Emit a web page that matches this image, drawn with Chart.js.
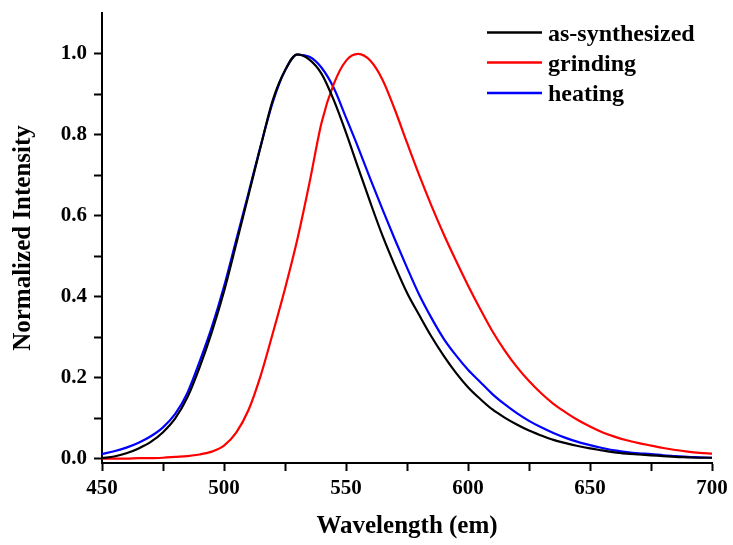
<!DOCTYPE html>
<html>
<head>
<meta charset="utf-8">
<script src="https://cdn.jsdelivr.net/npm/chart.js@4"></script>
<style>
  html, body { margin: 0; padding: 0; background: #fff; }
  #wrap { width: 733px; height: 545px; }
</style>
</head>
<body>
<div id="wrap"><canvas id="plChart" width="733" height="545"></canvas></div>
<script>
// Wavelength (nm), 5 nm steps
const wavelength = [450,455,460,465,470,475,480,485,490,495,500,505,510,515,520,525,530,535,540,545,550,555,560,565,570,575,580,585,590,595,600,605,610,615,620,625,630,635,640,645,650,655,660,665,670,675,680,685,690,695,700];

const asSynthesized = [0.002,0.006,0.014,0.026,0.042,0.066,0.100,0.152,0.226,0.313,0.413,0.530,0.650,0.770,0.885,0.958,0.998,0.985,0.950,0.885,0.805,0.718,0.632,0.550,0.477,0.410,0.355,0.302,0.255,0.213,0.177,0.148,0.122,0.102,0.085,0.070,0.058,0.047,0.039,0.032,0.026,0.021,0.016,0.013,0.011,0.009,0.007,0.005,0.004,0.003,0.003];

const grinding = [0.001,0.001,0.001,0.002,0.002,0.003,0.005,0.007,0.011,0.018,0.033,0.065,0.120,0.205,0.310,0.420,0.540,0.680,0.830,0.925,0.982,0.999,0.982,0.935,0.862,0.780,0.700,0.625,0.555,0.490,0.428,0.370,0.315,0.268,0.227,0.192,0.162,0.136,0.115,0.096,0.080,0.066,0.055,0.046,0.039,0.033,0.027,0.022,0.018,0.015,0.013];

const heating = [0.012,0.019,0.028,0.040,0.056,0.078,0.111,0.163,0.240,0.325,0.425,0.540,0.655,0.772,0.880,0.958,0.997,0.992,0.965,0.915,0.842,0.768,0.690,0.615,0.542,0.472,0.405,0.348,0.297,0.256,0.220,0.190,0.160,0.135,0.113,0.094,0.078,0.064,0.052,0.042,0.034,0.027,0.021,0.017,0.014,0.012,0.009,0.007,0.005,0.004,0.003];

const seriesNames = ['as-synthesized', 'grinding', 'heating'];
const seriesColors = ['#000000', '#ff0000', '#0000ff'];
const yTickValues = [0, 0.1, 0.2, 0.3, 0.4, 0.5, 0.6, 0.7, 0.8, 0.9, 1.0];

const serif = "'Liberation Serif', 'Times New Roman', serif";

function toPoints(ys) {
  return wavelength.map((x, i) => ({ x: x, y: ys[i] }));
}

// legend drawn inside the plot, top right
const innerLegend = {
  id: 'innerLegend',
  afterDraw(chart) {
    const ctx = chart.ctx;
    ctx.save();
    ctx.font = 'bold 24px ' + serif;
    ctx.textBaseline = 'alphabetic';
    ctx.textAlign = 'left';
    const rows = [32.5, 62.5, 93];
    chart.data.datasets.forEach((ds, i) => {
      const y = rows[i];
      ctx.strokeStyle = ds.borderColor;
      ctx.lineWidth = 2.5;
      ctx.beginPath();
      ctx.moveTo(487, y);
      ctx.lineTo(542, y);
      ctx.stroke();
      ctx.fillStyle = '#000';
      ctx.fillText(ds.label, 548, y + 8);
    });
    ctx.restore();
  }
};

const plCtx = document.getElementById('plChart').getContext('2d');
const plChart = new Chart(plCtx, {
  type: 'line',
  data: {
    datasets: [
      { label: seriesNames[0], data: toPoints(asSynthesized), borderColor: seriesColors[0] },
      { label: seriesNames[1], data: toPoints(grinding), borderColor: seriesColors[1] },
      { label: seriesNames[2], data: toPoints(heating), borderColor: seriesColors[2] }
    ]
  },
  options: {
    responsive: false,
    animation: false,
    devicePixelRatio: 1,
    layout: { padding: { top: 13, right: 21, left: 0, bottom: 0 } },
    elements: {
      point: { radius: 0 },
      line: { borderWidth: 2.2, cubicInterpolationMode: 'monotone', fill: false }
    },
    plugins: {
      legend: { display: false },
      tooltip: { enabled: false }
    },
    scales: {
      x: {
        type: 'linear',
        min: 450,
        max: 700,
        afterFit(scale) { scale.height = 82; scale.paddingLeft = 0; scale.paddingRight = 0; },
        ticks: {
          stepSize: 25,
          color: '#000',
          padding: 5,
          maxRotation: 0,
          font: { family: serif, size: 21, weight: 'bold' },
          callback: (v) => (v % 50 === 0 ? String(v) : '')
        },
        grid: { drawOnChartArea: false, drawTicks: true, tickLength: 8, tickWidth: 2, tickColor: '#000' },
        border: { display: true, color: '#000', width: 2 },
        title: {
          display: true,
          text: 'Wavelength (em)',
          color: '#000',
          font: { family: serif, size: 25, weight: 'bold' },
          padding: { top: 0, bottom: 3 }
        }
      },
      y: {
        min: -0.01,
        max: 1.1,
        afterFit(scale) { scale.width = 102; scale.paddingTop = 0; scale.paddingBottom = 0; },
        afterBuildTicks(scale) { scale.ticks = yTickValues.map(v => ({ value: v })); },
        ticks: {
          color: '#000',
          padding: 7,
          font: { family: serif, size: 21, weight: 'bold' },
          callback: (v, i) => (i % 2 === 0 ? Number(v).toFixed(1) : '')
        },
        grid: { drawOnChartArea: false, drawTicks: true, tickLength: 8, tickWidth: 2, tickColor: '#000' },
        border: { display: true, color: '#000', width: 2 },
        title: {
          display: true,
          text: 'Normalized Intensity',
          color: '#000',
          font: { family: serif, size: 25, weight: 'bold' },
          padding: { top: 9, bottom: 0 }
        }
      }
    }
  },
  plugins: [innerLegend]
});
</script>
</body>
</html>
